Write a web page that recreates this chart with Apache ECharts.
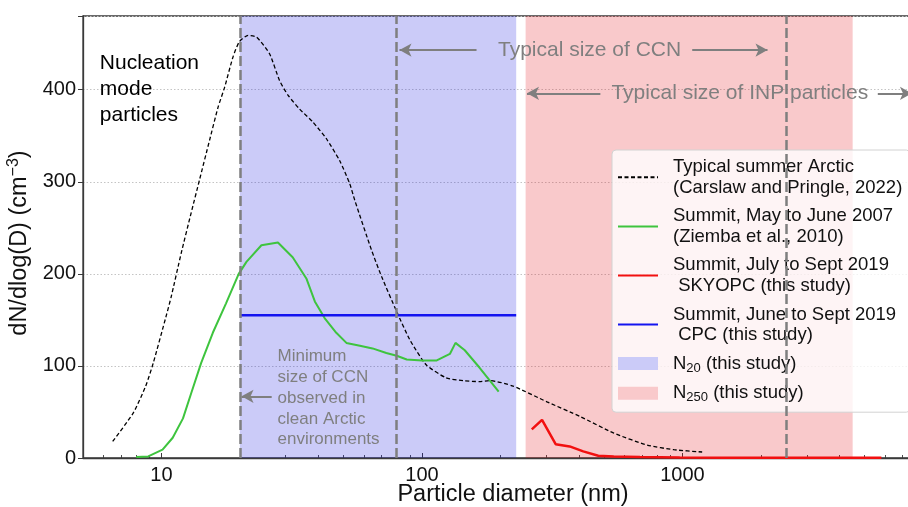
<!DOCTYPE html>
<html>
<head>
<meta charset="utf-8">
<script src="https://cdn.jsdelivr.net/npm/echarts@6/dist/echarts.min.js"></script>
<style>
  html, body { margin: 0; padding: 0; background: #fff; }
  #chart { width: 908px; height: 507px; }
</style>
</head>
<body>
<div id="chart"></div>
<script>
// Particle size distributions at Summit, Greenland vs. a typical summer Arctic spectrum
const FONT = '"Liberation Sans", Arial, Helvetica, sans-serif';

// Typical summer Arctic (Carslaw and Pringle, 2022)
const arcticDiam = [6.5, 7.8, 8.7, 9.3, 10.4, 10.9, 11.9, 13.0, 14.0, 15.3, 16.5, 17.5, 18.8, 19.9, 21.5, 23.2, 26.0, 28.4, 30.6, 33.9, 38.1, 42.9, 48.3, 52.8, 55.2, 64, 70, 80, 90, 104, 124, 144, 166, 183, 224, 302, 405, 545, 733, 927, 1190];
const arcticConc = [18, 49, 78, 103, 153, 175, 222, 266, 302, 345, 381, 403, 435, 452, 459, 457, 439, 410, 394, 379, 365, 347, 323, 298, 280, 226, 197, 159, 128, 101, 87, 84, 83, 84, 78, 61, 45, 27, 14, 9, 6.5];

// Summit, May to June 2007 (Ziemba et al., 2010)
const ziembaDiam = [8.0, 8.9, 10.1, 11.05, 12.1, 13.0, 14.2, 15.75, 17.7, 19.8, 21.2, 24.2, 28.0, 31.9, 36.0, 38.8, 42.3, 46.9, 51.3, 57.8, 64.6, 73, 80, 87.4, 100, 114, 128, 134.5, 146, 166.5, 197];
const ziembaConc = [1, 1.7, 9, 22, 43, 70, 103, 136, 168, 200, 213, 231, 234, 218, 195, 170, 152, 136, 125, 122, 119, 114, 111, 107, 106, 106, 113, 125, 117, 98, 72];

// Summit, July to Sept 2019, SKYOPC
const skyopcDiam = [264, 289, 326, 369, 416, 475, 545, 687, 976, 1500, 2500, 4000, 5800];
const skyopcConc = [31, 41.5, 15, 12.6, 7.2, 2.5, 1.7, 1, 0.6, 0.4, 0.3, 0.2, 0.2];

// Summit, June to Sept 2019, CPC (mean over its size window)
const cpcDiam = [20, 230];
const cpcConc = [155, 155];

// Size windows shaded on the plot
const n20Range = [20, 230];
const n250Range = [250, 4500];

// Vertical reference diameters (nm)
const refDiameters = [20, 80, 2500];

// Axis tick labels
const xTickLabels = [10, 100, 1000];
const yTickLabels = [0, 100, 200, 300, 400];

const X_MIN = 5, X_MAX = 10000, Y_MAX = 480;

const names = {
  arctic: 'Typical summer Arctic\n(Carslaw and Pringle, 2022)',
  ziemba: 'Summit, May to June 2007\n(Ziemba et al., 2010)',
  skyopc: 'Summit, July to Sept 2019\n SKYOPC (this study)',
  cpc: 'Summit, June to Sept 2019\n CPC (this study)',
  n20: 'N20 (this study)',
  n250: 'N250 (this study)'
};

const BAND_BLUE = 'rgba(19,19,223,0.22)';
const BAND_RED = 'rgba(228,10,19,0.22)';
const GREY = '#7f7f7f';
const AXIS = '#3a3a3a';

const pairs = (xs, ys) => xs.map((x, i) => [x, ys[i]]);

// minor tick positions (log10 space) for 2..9 x 10^n inside the axis range
const minorTicks = [];
for (let e = 0; e <= 3; e++) {
  for (let k = 2; k <= 9; k++) {
    const v = k * Math.pow(10, e);
    if (v > X_MIN && v < X_MAX) minorTicks.push(Math.log10(v));
  }
}

const chart = echarts.init(document.getElementById('chart'), null, { renderer: 'canvas' });

// legend samples for the curves: line only, no marker
const lineOnly = { opacity: 0 };

const option = {
  animation: false,
  textStyle: { fontFamily: FONT },
  // the plot area runs on past the right edge of the page
  grid: {
    left: 83, top: 16, width: 860, height: 442,
    outerBoundsMode: 'none', containLabel: false,
    show: true, borderColor: AXIS, borderWidth: 1.3, backgroundColor: '#fff'
  },
  xAxis: [{
    type: 'log', logBase: 10, min: X_MIN, max: X_MAX,
    name: 'Particle diameter (nm)', nameLocation: 'middle', nameGap: 25, nameMoveOverlap: false,
    nameTextStyle: { fontSize: 23.5, color: '#111', fontFamily: FONT },
    axisLine: { show: true, lineStyle: { color: AXIS, width: 1.3 } },
    axisTick: { show: true, inside: true, length: 5, lineStyle: { color: AXIS, width: 1 } },
    axisLabel: {
      fontSize: 20, color: '#111', margin: 7, fontFamily: FONT,
      formatter: v => {
        const r = Math.round(v);
        return xTickLabels.indexOf(r) >= 0 ? String(r) : '';
      }
    },
    splitLine: { show: false }
  }, {
    type: 'value', position: 'bottom', min: Math.log10(X_MIN), max: Math.log10(X_MAX),
    axisLine: { show: false }, axisLabel: { show: false }, splitLine: { show: false },
    axisTick: { show: true, inside: true, length: 3, customValues: minorTicks, lineStyle: { color: AXIS, width: 0.9 } }
  }],
  yAxis: {
    type: 'value', min: 0, max: Y_MAX, interval: 100,
    name: '{a|dN/dlog(D) (cm}{s|−3}{a|)}', nameLocation: 'middle', nameGap: 44,
    nameTextStyle: {
      color: '#111', padding: [0, 12, 0, 0],
      rich: {
        a: { fontSize: 23.5, fontFamily: FONT, color: '#111' },
        s: { fontSize: 16, fontFamily: FONT, color: '#111', padding: [0, 0, 12, 0] }
      }
    },
    axisLine: { show: true, lineStyle: { color: AXIS, width: 1.3 } },
    axisTick: { show: true, inside: false, length: 5, lineStyle: { color: AXIS, width: 1 } },
    axisLabel: {
      fontSize: 20, color: '#111', margin: 7, fontFamily: FONT,
      formatter: v => (yTickLabels.indexOf(v) >= 0 ? String(v) : '')
    },
    splitLine: { show: true, lineStyle: { color: '#c4c4c4', width: 1, type: [1.5, 2] } }
  },
  legend: {
    orient: 'vertical', left: 612, top: 150,
    padding: [7, 8, 8, 5], itemGap: 8.5, itemWidth: 40, itemHeight: 13,
    backgroundColor: 'rgba(255,255,255,0.8)', borderColor: '#d2d2d2', borderWidth: 1, borderRadius: 4,
    selectedMode: false,
    textStyle: {
      fontSize: 18.5, color: '#111', fontFamily: FONT, lineHeight: 20.3, padding: [0, 0, 0, 10],
      rich: {
        t: { fontSize: 18.5, fontFamily: FONT, color: '#111' },
        sub: { fontSize: 13, fontFamily: FONT, color: '#111', padding: [9, 0, 0, 0] }
      }
    },
    formatter: name => {
      if (name === names.n20) return '{t|N}{sub|20}{t| (this study)}';
      if (name === names.n250) return '{t|N}{sub|250}{t| (this study)}';
      return name;
    },
    data: [
      { name: names.arctic, itemStyle: lineOnly },
      { name: names.ziemba, itemStyle: lineOnly },
      { name: names.skyopc, itemStyle: lineOnly },
      { name: names.cpc, itemStyle: lineOnly },
      { name: names.n20, icon: 'rect', itemStyle: { color: '#cbcbf8', borderWidth: 0 } },
      { name: names.n250, icon: 'rect', itemStyle: { color: '#f9c9cb', borderWidth: 0 } }
    ]
  },
  series: [
    {
      name: names.n20, type: 'line', data: [], color: '#cbcbf8', z: 1,
      markArea: {
        silent: true, itemStyle: { color: BAND_BLUE },
        data: [[{ xAxis: n20Range[0] }, { xAxis: n20Range[1] }]]
      }
    },
    {
      name: names.n250, type: 'line', data: [], color: '#f9c9cb', z: 1,
      markArea: {
        silent: true, itemStyle: { color: BAND_RED },
        data: [[{ xAxis: n250Range[0] }, { xAxis: n250Range[1] }]]
      }
    },
    {
      name: 'reference diameters', type: 'line', data: [], z: 3,
      markLine: {
        silent: true, symbol: 'none', label: { show: false },
        lineStyle: { color: GREY, width: 2.5, type: [10, 4] },
        data: refDiameters.map(d => ({ xAxis: d }))
      }
    },
    {
      name: names.arctic, type: 'line', data: pairs(arcticDiam, arcticConc),
      symbol: 'none', smooth: 0.2, z: 4, color: '#000',
      lineStyle: { color: '#000', width: 1.3, type: [4, 2.5] }
    },
    {
      name: names.ziemba, type: 'line', data: pairs(ziembaDiam, ziembaConc),
      symbol: 'none', z: 4, color: '#3ec43e',
      lineStyle: { color: '#3ec43e', width: 2 }
    },
    {
      name: names.skyopc, type: 'line', data: pairs(skyopcDiam, skyopcConc),
      symbol: 'none', z: 4, color: '#f21010',
      lineStyle: { color: '#f21010', width: 2.5 }
    },
    {
      name: names.cpc, type: 'line', data: pairs(cpcDiam, cpcConc),
      symbol: 'none', z: 4, color: '#1414f0',
      lineStyle: { color: '#1414f0', width: 2.5 }
    },
    {
      name: 'annotation arrows', type: 'line', data: [], z: 5,
      markLine: {
        silent: true, label: { show: false },
        symbol: ['none', 'arrow'], symbolSize: [10, 12],
        lineStyle: { color: GREY, width: 2, type: 'solid' },
        data: [
          [{ coord: [162, 443] }, { coord: [82, 443] }],
          [{ coord: [1090, 443] }, { coord: [2120, 443] }],
          [{ coord: [484, 396] }, { coord: [253, 396] }],
          [{ coord: [5620, 396] }, { coord: [7600, 396] }],
          [{ coord: [26.5, 67] }, { coord: [20.3, 67] }]
        ]
      }
    }
  ]
};

chart.setOption(option);

// Text annotations placed in data coordinates
function at(d, v) { return chart.convertToPixel({ xAxisIndex: 0, yAxisIndex: 0 }, [d, v]); }
const notes = [
  { pos: at(440, 443), text: 'Typical size of CCN', size: 21, fill: GREY, align: 'center', lh: 24 },
  { pos: at(1660, 396), text: 'Typical size of INP particles', size: 21, fill: GREY, align: 'center', lh: 24 },
  { pos: at(5.8, 401), text: 'Nucleation\nmode\nparticles', size: 21, fill: '#000', align: 'left', lh: 26 },
  { pos: at(27.9, 65), text: 'Minimum\nsize of CCN\nobserved in\nclean Arctic\nenvironments', size: 17, fill: GREY, align: 'left', lh: 20.7 }
];
chart.setOption({
  graphic: notes.map(n => ({
    type: 'text', x: n.pos[0], y: n.pos[1], z: 20, silent: true,
    style: {
      text: n.text, fill: n.fill, fontSize: n.size, fontFamily: FONT,
      align: n.align, verticalAlign: 'middle', lineHeight: n.lh
    }
  }))
});
</script>
</body>
</html>
